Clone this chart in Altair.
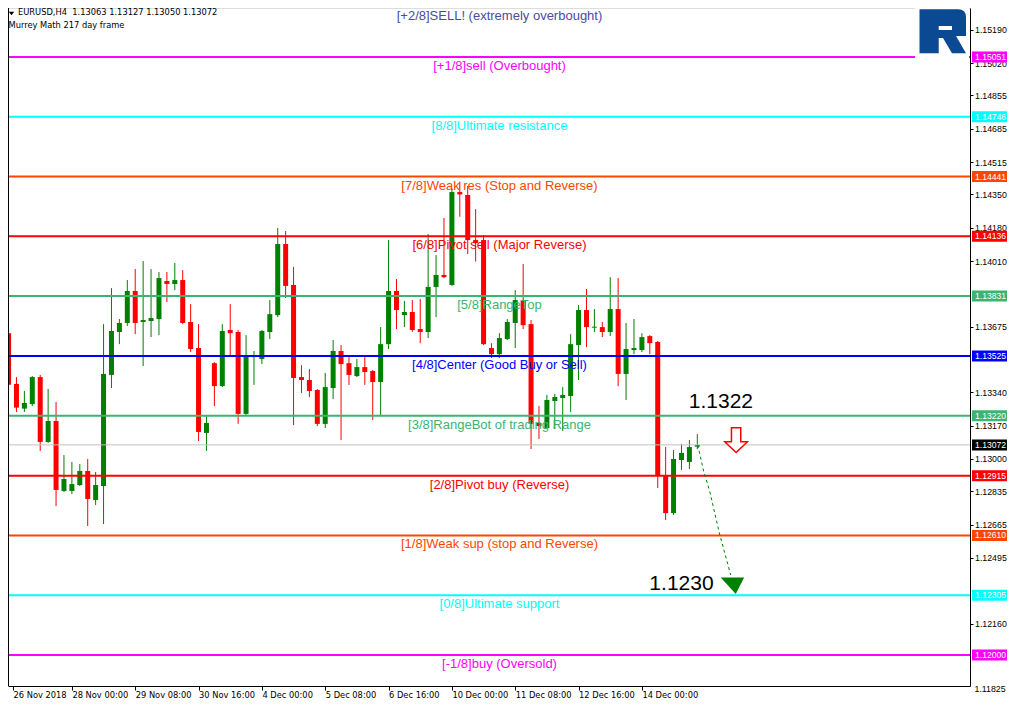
import json
import altair as alt
import pandas as pd

# ---------------- data ----------------
# EURUSD H4 candles (bar index 0 = 26 Nov 2018 16:00)
bar_open = [1.13642, 1.13383, 1.13257, 1.13280, 1.13418, 1.13087, 1.13194, 1.12837, 1.12837, 1.12867,
            1.12939, 1.12791, 1.12862, 1.13429, 1.13648, 1.13694, 1.13857, 1.13699, 1.13704, 1.13714,
            1.13908, 1.13893, 1.13913, 1.13699, 1.13566, 1.13133, 1.13489, 1.13372, 1.13658, 1.13648,
            1.13230, 1.13520, 1.13510, 1.13648, 1.13734, 1.14097, 1.13888, 1.13418, 1.13403, 1.13352,
            1.13179, 1.13362, 1.13551, 1.13489, 1.13423, 1.13469, 1.13449, 1.13393, 1.13586, 1.13857,
            1.13734, 1.13750, 1.13663, 1.13648, 1.13878, 1.13939, 1.13888, 1.14362, 1.14347, 1.14117,
            1.14117, 1.13566, 1.13535, 1.13612, 1.13694, 1.13811, 1.13688, 1.13184, 1.13158, 1.13296,
            1.13311, 1.13321, 1.13581, 1.13760, 1.13670, 1.13673, 1.13648, 1.13765, 1.13434, 1.13556,
            1.13556, 1.13627, 1.13597, 1.12913, 1.12724, 1.12995, 1.12985, 1.13063]
bar_high = [1.13663, 1.13418, 1.13347, 1.13423, 1.13429, 1.13357, 1.13291, 1.13020, 1.12985, 1.12974,
            1.13000, 1.12934, 1.13688, 1.13872, 1.13714, 1.13913, 1.13969, 1.14010, 1.13969, 1.13954,
            1.13954, 1.14000, 1.13964, 1.13790, 1.13688, 1.13219, 1.13494, 1.13688, 1.13790, 1.13658,
            1.13632, 1.13551, 1.13658, 1.13811, 1.14179, 1.14163, 1.13980, 1.13479, 1.13459, 1.13357,
            1.13439, 1.13607, 1.13581, 1.13520, 1.13510, 1.13520, 1.13454, 1.13673, 1.14117, 1.13918,
            1.13806, 1.13811, 1.13816, 1.14148, 1.14041, 1.14230, 1.14378, 1.14415, 1.14393, 1.14275,
            1.14143, 1.13591, 1.13642, 1.13714, 1.13862, 1.13995, 1.13709, 1.13270, 1.13327, 1.13332,
            1.13367, 1.13637, 1.13785, 1.13867, 1.13765, 1.13699, 1.13928, 1.13923, 1.13694, 1.13714,
            1.13642, 1.13632, 1.13602, 1.13061, 1.13046, 1.13077, 1.13097, 1.13127]
bar_low = [1.13327, 1.13240, 1.13240, 1.13270, 1.13041, 1.13082, 1.12760, 1.12832, 1.12821, 1.12862,
           1.12658, 1.12765, 1.12668, 1.13362, 1.13586, 1.13678, 1.13637, 1.13474, 1.13622, 1.13632,
           1.13801, 1.13862, 1.13688, 1.13546, 1.13092, 1.13041, 1.13270, 1.13367, 1.13525, 1.13179,
           1.13225, 1.13378, 1.13484, 1.13612, 1.13724, 1.13821, 1.13173, 1.13337, 1.13316, 1.13168,
           1.13158, 1.13306, 1.13097, 1.13378, 1.13418, 1.13378, 1.13199, 1.13219, 1.13561, 1.13663,
           1.13673, 1.13648, 1.13591, 1.13617, 1.13724, 1.13923, 1.13883, 1.14236, 1.14046, 1.14007,
           1.13581, 1.13515, 1.13515, 1.13607, 1.13566, 1.13663, 1.13051, 1.13102, 1.13153, 1.13153,
           1.13143, 1.13240, 1.13403, 1.13571, 1.13648, 1.13622, 1.13627, 1.13372, 1.13301, 1.13535,
           1.13546, 1.13535, 1.12852, 1.12689, 1.12714, 1.12944, 1.12949, 1.13050]
bar_close = [1.13379, 1.13262, 1.13286, 1.13418, 1.13087, 1.13194, 1.12842, 1.12898, 1.12872, 1.12939,
             1.12796, 1.12867, 1.13434, 1.13653, 1.13694, 1.13857, 1.13694, 1.13709, 1.13719, 1.13923,
             1.13893, 1.13913, 1.13694, 1.13561, 1.13138, 1.13184, 1.13372, 1.13653, 1.13642, 1.13230,
             1.13525, 1.13530, 1.13653, 1.13739, 1.14097, 1.13883, 1.13413, 1.13403, 1.13347, 1.13179,
             1.13367, 1.13551, 1.13484, 1.13429, 1.13469, 1.13444, 1.13393, 1.13586, 1.13857, 1.13760,
             1.13750, 1.13658, 1.13648, 1.13878, 1.13939, 1.13928, 1.14362, 1.14350, 1.14117, 1.14102,
             1.13586, 1.13535, 1.13617, 1.13699, 1.13811, 1.13683, 1.13179, 1.13168, 1.13301, 1.13316,
             1.13327, 1.13586, 1.13760, 1.13673, 1.13675, 1.13648, 1.13765, 1.13434, 1.13561, 1.13566,
             1.13622, 1.13591, 1.12913, 1.12724, 1.13000, 1.13031, 1.13061, 1.13072]

# time axis labels (one every 8 bars)
x_labels = ["26 Nov 2018", "28 Nov 00:00", "29 Nov 08:00", "30 Nov 16:00", "4 Dec 00:00",
            "5 Dec 08:00", "6 Dec 16:00", "10 Dec 00:00", "11 Dec 08:00", "12 Dec 16:00",
            "14 Dec 00:00"]
x_label_bars = [0.5625, 8, 16, 24, 32, 40, 48, 56, 64, 72, 80]

# price axis tick labels (those not hidden behind the level price boxes)
y_ticks = [1.15190, 1.15020, 1.14855, 1.14685, 1.14515, 1.14350, 1.14180, 1.14010,
           1.13675, 1.13340, 1.13170, 1.13000, 1.12835, 1.12665, 1.12495,
           1.12160]
y_tick_bottom = 1.11825

# Murrey Math levels
level_prices = [1.15356, 1.15051, 1.14746, 1.14441, 1.14136, 1.13831, 1.13525, 1.13220,
                1.12915, 1.12610, 1.12305, 1.12000]
level_texts = ["[+2/8]SELL! (extremely overbought)", "[+1/8]sell (Overbought)",
               "[8/8]Ultimate resistance", "[7/8]Weak res (Stop and Reverse)",
               "[6/8]Pivot sell (Major Reverse)", "[5/8]RangeTop",
               "[4/8]Center (Good Buy or Sell)", "[3/8]RangeBot of trading Range",
               "[2/8]Pivot buy (Reverse)", "[1/8]Weak sup (stop and Reverse)",
               "[0/8]Ultimate support", "[-1/8]buy (Oversold)"]
level_colors = ["#4B4BA0", "#FF00FF", "#00FFFF", "#FF4500", "#FF0000", "#3CB371",
                "#0000FF", "#3CB371", "#FF0000", "#FF4500", "#00FFFF", "#FF00FF"]

current_price = 1.13072

# forecast annotation
path_bars = [87.06, 87.81, 88.53, 89.78, 91.22]
path_prices = [1.130714, 1.129352, 1.128418, 1.126224, 1.124081]
target_text = ["1.1322", "1.1230"]
target_bars = [89.98, 85.0]
target_prices = [1.132602, 1.123316]
down_arrow_bar, down_arrow_price = 91.44, 1.123536
hollow_arrow_bar, hollow_arrow_price = 91.9, 1.130969

header_lines = ["EURUSD,H4\u00a0 1.13063 1.13127 1.13050 1.13072", "Murrey Math 217 day frame"]

# ---------------- chart ----------------
W, H = 962, 678
UI_FONT = "DejaVu Sans"
NUM_FONT = "Liberation Sans"
TXT_FONT = "Liberation Sans"

candles = pd.DataFrame({"i": list(range(len(bar_open))), "open": bar_open, "high": bar_high,
                        "low": bar_low, "close": bar_close})
candles["dir"] = ["up" if c >= o else "down" for o, c in zip(bar_open, bar_close)]

xs = alt.Scale(domain=[0.5625, 0.5625 + W / 8], nice=False, zero=False)
ys = alt.Scale(domain=[1.118418, 1.153010], nice=False, zero=False)
col = alt.Color("dir:N", scale=alt.Scale(domain=["up", "down"], range=["#008000", "#FF0000"]), legend=None)

label_expr = json.dumps(x_labels) + "[round(datum.value/8)]"
x_axis = alt.Axis(values=x_label_bars, labelExpr=label_expr, title=None, grid=False,
                  tickSize=4, tickColor="black", domainColor="black", labelColor="black",
                  labelFont=UI_FONT, labelFontSize=8.3, labelAlign="left", labelPadding=0.5,
                  labelFlush=False, labelOverlap=False, labelBaseline="top")
y_axis = alt.Axis(orient="right", values=y_ticks, format=".5f", title=None, grid=False,
                  tickSize=3, tickColor="black", domainColor="black", labelColor="black",
                  labelFont=NUM_FONT, labelFontSize=8.8, labelPadding=1.5,
                  labelFlush=False, labelOverlap=False)


def X(field):
    return alt.X(field, scale=xs, axis=x_axis)


def Y(field):
    return alt.Y(field, scale=ys, axis=y_axis)


wicks = alt.Chart(candles).mark_rule(strokeWidth=1).encode(
    x=X("i:Q"), y=Y("low:Q"), y2="high:Q", color=col)
bodies = alt.Chart(candles).mark_bar(size=5, opacity=1).encode(
    x=X("i:Q"), y=Y("open:Q"), y2="close:Q", color=col)

cur = pd.DataFrame({"price": [current_price], "label": [f"{current_price:.5f}"], "color": ["black"]})
cur_line = alt.Chart(cur).mark_rule(color="#C0C0C0", strokeWidth=1).encode(y=Y("price:Q"))

levels = pd.DataFrame({"price": level_prices, "text": level_texts, "color": level_colors,
                       "label": [f"{p:.5f}" for p in level_prices]})
lv_lines = alt.Chart(levels).mark_rule(strokeWidth=2).encode(
    y=Y("price:Q"), color=alt.Color("color:N", scale=None))
lv_text = alt.Chart(levels.iloc[1:]).mark_text(align="center", baseline="middle", dy=9, font=TXT_FONT,
                                               fontSize=13).encode(
    x=alt.value(491.5), y=Y("price:Q"), text="text:N", color=alt.Color("color:N", scale=None))
top_text = alt.Chart(levels.iloc[:1]).mark_text(align="center", baseline="middle", font=TXT_FONT,
                                                fontSize=13).encode(
    x=alt.value(491.5), y=alt.value(7.5), text="text:N", color=alt.Color("color:N", scale=None))

one = pd.DataFrame({"a": [0]})
logo_bg = alt.Chart(one).mark_rect(color="white").encode(
    x=alt.value(907), x2=alt.value(W - 1), y=alt.value(0), y2=alt.value(51))
LOGO = ("M-1,-0.946 L0.656,-0.946 Q1,-0.946 1,-0.602 L1,0.202 L0.57,0.202 L1,0.946 L0.398,0.946 "
        "L0.011,0.288 L-0.174,0.288 L-0.174,0.946 L-1,0.946 Z "
        "M-0.174,-0.228 L-0.174,-0.056 L0.398,-0.056 L0.398,-0.228 Z")
logo = alt.Chart(one).mark_point(shape=LOGO, size=2162, filled=True, color="#0B4A92", opacity=1).encode(
    x=alt.value(934.75), y=alt.value(23.3))

boxes_df = pd.concat([levels.iloc[1:][["price", "label", "color"]], cur], ignore_index=True)
boxes = alt.Chart(boxes_df).mark_tick(orient="horizontal", size=44, thickness=11, opacity=1).encode(
    x=alt.value(W + 24), y=Y("price:Q"), color=alt.Color("color:N", scale=None))
box_text = alt.Chart(boxes_df).mark_text(align="left", baseline="middle", color="white",
                                         font=NUM_FONT, fontSize=8.6).encode(
    x=alt.value(W + 5), y=Y("price:Q"), text="label:N")
bottom_tick = alt.Chart(pd.DataFrame({"price": [y_tick_bottom], "label": [f"{y_tick_bottom:.5f}"]})).mark_text(
    align="left", baseline="middle", color="black", font=NUM_FONT, fontSize=8.8).encode(
    x=alt.value(W + 4.5), y=Y("price:Q"), text="label:N")

path = alt.Chart(pd.DataFrame({"i": path_bars, "p": path_prices})).mark_line(
    strokeDash=[3, 3], color="#008000", strokeWidth=1).encode(x=X("i:Q"), y=Y("p:Q"))
TRI = "M-1,-0.71 L1,-0.71 L0.28,0.72 Z"
tri = alt.Chart(pd.DataFrame({"i": [down_arrow_bar], "p": [down_arrow_price]})).mark_point(
    shape=TRI, size=548, filled=True, color="#008000", opacity=1).encode(x=X("i:Q"), y=Y("p:Q"))
ARW = "M-0.41,-1.08 L0.41,-1.08 L0.41,0.15 L1,0.15 L0,1.1 L-1,0.15 L-0.41,0.15 Z"
harrow = alt.Chart(pd.DataFrame({"i": [hollow_arrow_bar], "p": [hollow_arrow_price]})).mark_point(
    shape=ARW, size=515, filled=True, fill="white", stroke="#FF0000", strokeWidth=1.5, opacity=1).encode(
    x=X("i:Q"), y=Y("p:Q"))
targets = alt.Chart(pd.DataFrame({"i": target_bars, "p": target_prices, "t": target_text})).mark_text(
    align="center", baseline="alphabetic", font=TXT_FONT, fontSize=21, color="black").encode(
    x=X("i:Q"), y=Y("p:Q"), text="t:N")

hdr1 = alt.Chart(pd.DataFrame({"t": [header_lines[0]]})).mark_text(
    align="left", baseline="middle", font=UI_FONT, fontSize=8.3, color="black").encode(
    x=alt.value(10), y=alt.value(5.2), text="t:N")
hdr2 = alt.Chart(pd.DataFrame({"t": [header_lines[1]]})).mark_text(
    align="left", baseline="middle", font=UI_FONT, fontSize=8.3, color="black").encode(
    x=alt.value(0.5), y=alt.value(17.5), text="t:N")
hdr_tri = alt.Chart(one).mark_point(shape="M-1,-0.6 L1,-0.6 L0,0.6 Z", size=30, filled=True,
                                    color="black", opacity=1).encode(x=alt.value(3.5), y=alt.value(5.5))
left_border = alt.Chart(one).mark_rule(color="black", strokeWidth=1).encode(x=alt.value(0.5))

# total svg width must stay <= 999 so the page does not overflow the 1015px window
chart = alt.layer(
    wicks, bodies, cur_line, lv_lines, logo_bg, logo, lv_text, top_text, boxes, box_text, bottom_tick,
    path, tri, harrow, targets, hdr_tri, hdr1, hdr2, left_border
).properties(
    width=W, height=H,
    autosize=alt.AutoSizeParams(type="none"),
    padding={"left": 0, "top": 0, "right": 999 - W, "bottom": 13},
).configure_view(stroke=None).configure(background="white")

chart.save("out.html", embed_options={"renderer": "svg", "actions": False})
